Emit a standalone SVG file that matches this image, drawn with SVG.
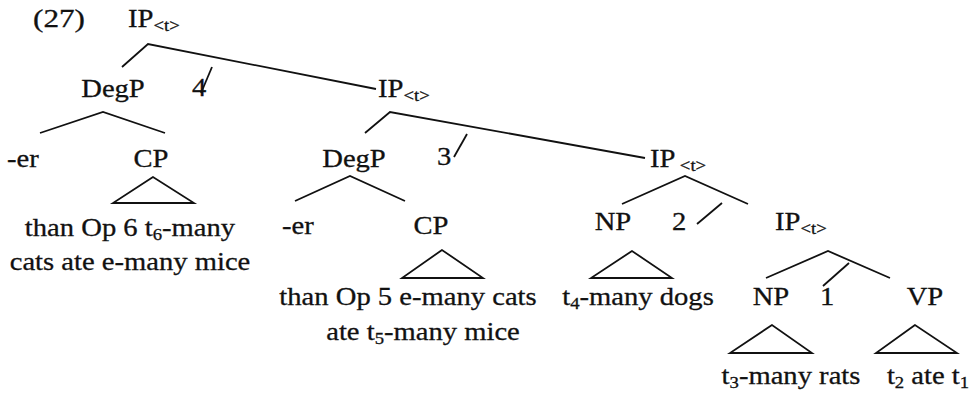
<svg xmlns="http://www.w3.org/2000/svg" width="980" height="395" viewBox="0 0 980 395">
  <style>
    text { font-family: "Liberation Serif", "Times New Roman", serif; font-size: 26px; fill: #111111; stroke: #111111; stroke-width: 0.3; }
    .sub { font-size: 17px; }
    .ang { font-size: 17px; }
    .edge { fill: none; stroke: #111111; stroke-width: 1.8; stroke-linejoin: miter; }
  </style>
  <rect width="980" height="395" fill="#ffffff"/>

  <!-- tree edges, roofs (triangles) and index slashes -->
  <g id="connectors">
    <polyline class="edge" points="122,67 148,44 376,89"/>
    <line class="edge" x1="212" y1="67" x2="201" y2="93"/>
    <polyline class="edge" points="40,133 103,112 165,133"/>
    <polyline class="edge" points="365,133 390,112 645,158"/>
    <line class="edge" x1="467" y1="134" x2="454" y2="157"/>
    <polygon class="edge" points="153,177 113,203 194,203"/>
    <polyline class="edge" points="295,201 350,176 405,201"/>
    <polyline class="edge" points="622,204 685,176 748,204"/>
    <line class="edge" x1="722" y1="203" x2="697" y2="224"/>
    <polygon class="edge" points="442,250 402,278 483,278"/>
    <polygon class="edge" points="632,251 591,278 672,278"/>
    <polyline class="edge" points="766,278 828,251 890,278"/>
    <line class="edge" x1="849" y1="263" x2="823" y2="286"/>
    <polygon class="edge" points="772,325 730,353 812,353"/>
    <polygon class="edge" points="915,325 876,353 957,353"/>
  </g>

  <g id="ex-number"><text transform="translate(33,27) scale(1.2,1)" font-size="22">(27)</text></g>

  <g id="ip-root"><text transform="translate(128,27) scale(1.1,1)">IP<tspan class="ang" dy="4">&lt;t&gt;</tspan></text></g>
  <g id="degp-1"><text transform="translate(113,97) scale(1.1,1)" text-anchor="middle">DegP</text></g>
  <g id="idx-4"><text transform="translate(192,96) scale(1.1,1)">4</text></g>
  <g id="ip-2"><text transform="translate(378,97) scale(1.1,1)">IP<tspan class="ang" dy="4">&lt;t&gt;</tspan></text></g>

  <g id="er-1"><text transform="translate(7,167) scale(1.1,1)">-er</text></g>
  <g id="cp-1"><text transform="translate(151,167) scale(1.1,1)" text-anchor="middle">CP</text></g>
  <g id="cp-1-content">
    <text transform="translate(130,236) scale(1.1,1)" text-anchor="middle">than Op 6 t<tspan class="sub" dy="4">6</tspan><tspan dy="-4">-many</tspan></text>
    <text transform="translate(130,270) scale(1.1,1)" text-anchor="middle">cats ate e-many mice</text>
  </g>

  <g id="degp-2"><text transform="translate(354,167) scale(1.1,1)" text-anchor="middle">DegP</text></g>
  <g id="idx-3"><text transform="translate(437,165) scale(1.1,1)">3</text></g>
  <g id="ip-3"><text transform="translate(650,167) scale(1.1,1)">IP<tspan class="ang" dx="4" dy="4">&lt;t&gt;</tspan></text></g>

  <g id="er-2"><text transform="translate(282,234) scale(1.1,1)">-er</text></g>
  <g id="cp-2"><text transform="translate(431,234) scale(1.1,1)" text-anchor="middle">CP</text></g>
  <g id="cp-2-content">
    <text transform="translate(408,305) scale(1.1,1)" text-anchor="middle">than Op 5 e-many cats</text>
    <text transform="translate(423,340) scale(1.1,1)" text-anchor="middle">ate t<tspan class="sub" dy="4">5</tspan><tspan dy="-4">-many mice</tspan></text>
  </g>

  <g id="np-3"><text transform="translate(613,230) scale(1.1,1)" text-anchor="middle">NP</text></g>
  <g id="idx-2"><text transform="translate(672,230) scale(1.1,1)">2</text></g>
  <g id="ip-4"><text transform="translate(775,230) scale(1.1,1)">IP<tspan class="ang" dy="4">&lt;t&gt;</tspan></text></g>
  <g id="np-3-content"><text transform="translate(638,305) scale(1.1,1)" text-anchor="middle">t<tspan class="sub" dy="4">4</tspan><tspan dy="-4">-many dogs</tspan></text></g>

  <g id="np-4"><text transform="translate(771,305) scale(1.1,1)" text-anchor="middle">NP</text></g>
  <g id="idx-1"><text transform="translate(820,305) scale(1.1,1)">1</text></g>
  <g id="vp"><text transform="translate(925,305) scale(1.1,1)" text-anchor="middle">VP</text></g>
  <g id="np-4-content"><text transform="translate(791,384) scale(1.1,1)" text-anchor="middle">t<tspan class="sub" dy="4">3</tspan><tspan dy="-4">-many rats</tspan></text></g>
  <g id="vp-content"><text transform="translate(928,384) scale(1.1,1)" text-anchor="middle">t<tspan class="sub" dy="4">2</tspan><tspan dy="-4"> ate t</tspan><tspan class="sub" dy="4">1</tspan></text></g>
</svg>
